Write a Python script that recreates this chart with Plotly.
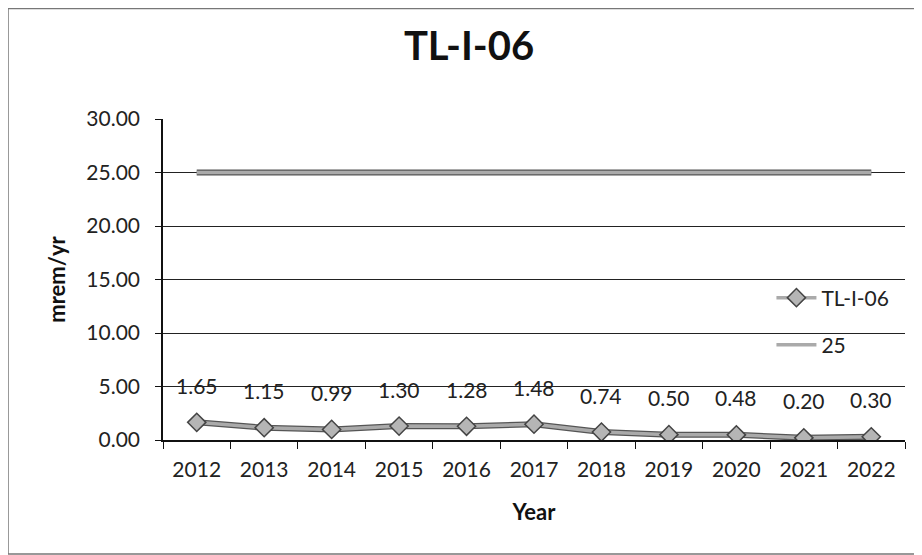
import plotly.graph_objects as go

years = ["2012", "2013", "2014", "2015", "2016", "2017", "2018", "2019", "2020", "2021", "2022"]
dose = [1.65, 1.15, 0.99, 1.30, 1.28, 1.48, 0.74, 0.50, 0.48, 0.20, 0.30]
limit = [25, 25, 25, 25, 25, 25, 25, 25, 25, 25, 25]
series_names = ["TL-I-06", "25"]
y_ticks = [0, 5, 10, 15, 20, 25, 30]

FONT = "Lato, Open Sans, sans-serif"

fig = go.Figure()
# dark outline under lines (scan look)
fig.add_trace(go.Scatter(x=years, y=limit, mode="lines", line=dict(color="#555555", width=6),
                         showlegend=False, hoverinfo="skip"))
fig.add_trace(go.Scatter(x=years, y=limit, mode="lines", name=series_names[1],
                         line=dict(color="#aaaaaa", width=3.5), legend="legend2"))
fig.add_trace(go.Scatter(x=years, y=dose, mode="lines", line=dict(color="#555555", width=6),
                         showlegend=False, hoverinfo="skip"))
fig.add_trace(go.Scatter(x=years, y=dose, mode="lines+markers", name=series_names[0],
                         line=dict(color="#aaaaaa", width=3.5), legend="legend",
                         marker=dict(symbol="diamond", size=14, color="#b5b5b5",
                                     line=dict(color="#444444", width=1.5))))

for i, v in enumerate(dose):
    fig.add_annotation(x=i, y=v, xref="x", yref="y", text=f"{v:.2f}", showarrow=False,
                       yshift=37, font=dict(family=FONT, size=21, color="#222222"))

legend_common = dict(xanchor="left", yanchor="middle", bgcolor="rgba(0,0,0,0)",
                     font=dict(family=FONT, size=21, color="#222222"), itemwidth=40)

fig.update_layout(
    width=922, height=555,
    margin=dict(l=155, r=25, t=111, b=123),
    paper_bgcolor="white", plot_bgcolor="white",
    title=dict(text="<b>TL-I-06</b>", x=0.5, xanchor="center", y=1 - 38 / 555, yanchor="middle",
               font=dict(family=FONT, size=40, color="#111111")),
    font=dict(family=FONT, size=21, color="#222222"),
    showlegend=True,
    legend=dict(x=0.82, y=(432 - 290) / 321, **legend_common),
    legend2=dict(x=0.82, y=(432 - 337) / 321, **legend_common),
    xaxis=dict(type="category", range=[-0.5, 10.5], showgrid=False,
               showline=True, linecolor="#111111", linewidth=2,
               ticks="outside", ticklen=7, tickcolor="#111111", tickson="boundaries",
               ticklabelstandoff=10,
               tickfont=dict(family=FONT, size=21, color="#222222"),
               title=dict(text="<b>Year</b>", font=dict(family=FONT, size=22, color="#111111"), standoff=24)),
    yaxis=dict(range=[0, 30], tickvals=y_ticks, tickformat=".2f",
               showgrid=True, gridcolor="#222222", gridwidth=1,
               showline=True, linecolor="#111111", linewidth=1.5,
               ticks="outside", ticklen=6, tickcolor="#111111",
               ticklabelstandoff=11,
               tickfont=dict(family=FONT, size=21, color="#222222"),
               zeroline=False,
               title=dict(text="<b>mrem/yr</b>", font=dict(family=FONT, size=22, color="#111111"), standoff=15)),
)

fig.add_shape(type="rect", xref="paper", yref="paper", x0=-0.2089, x1=1.0216, y0=-0.355, y1=1.3443,
              line=dict(color="#777777", width=1.5), fillcolor="rgba(0,0,0,0)")

fig.write_html("out.html")
